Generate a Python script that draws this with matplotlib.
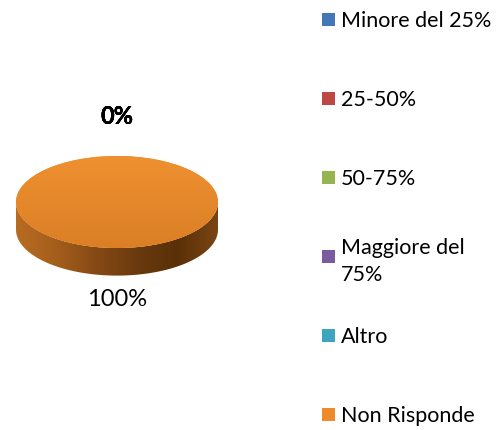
import numpy as np
import matplotlib.pyplot as plt
from matplotlib.patches import Polygon, Rectangle
from matplotlib.colors import LinearSegmentedColormap

categories = ['Minore del 25%', '25-50%', '50-75%', 'Maggiore del\n75%', 'Altro', 'Non Risponde']
values = [0, 0, 0, 0, 0, 100]
colors = ['#4477B5', '#BC4743', '#94B552', '#7A5C9E', '#3FA4BE', '#EE8A2A']

plt.rcParams['font.family'] = ['Lato', 'DejaVu Sans']

W, H = 501, 430
fig = plt.figure(figsize=(W / 100, H / 100), dpi=100)

# pie geometry in pixels (center, semi axes), depth in data units
cx, cy, a, b = 117, 202, 101, 46
depth = 0.6

ax = fig.add_axes([0, 0, 234 / W, 1])
wedges, _ = ax.pie(values, colors=colors, startangle=90, counterclock=False,
                   radius=1, wedgeprops=dict(linewidth=0), frame=False)
ax.set_aspect('auto')
ax.axis('off')

# side of the 3d disc
t = np.linspace(np.pi, 2 * np.pi, 200)
side = np.concatenate([np.column_stack([np.cos(t), np.sin(t)]),
                       np.column_stack([np.cos(t[::-1]), np.sin(t[::-1]) - depth])])
side_patch = Polygon(side, closed=True, facecolor='none', edgecolor='none')
ax.add_patch(side_patch)
side_cmap = LinearSegmentedColormap.from_list(
    'side', ['#B86C22', '#A45E1C', '#854914', '#6A3A0E', '#5A3008', '#7A4514'])
grad = np.linspace(0, 1, 256).reshape(1, -1)
im = ax.imshow(grad, cmap=side_cmap, extent=(-1, 1, -1 - depth, 0),
               aspect='auto', zorder=0.5)
im.set_clip_path(side_patch)

# top face gradient
top_cmap = LinearSegmentedColormap.from_list('top', ['#DB7F26', '#EF9130'])
vgrad = np.linspace(0, 1, 256).reshape(-1, 1)
for w, v in zip(wedges, values):
    if v > 0:
        w.set_zorder(1)
        im2 = ax.imshow(vgrad, cmap=top_cmap, extent=(-1, 1, -1, 1),
                        aspect='auto', origin='lower', zorder=1.1)
        im2.set_clip_path(w)
ax.set_xlim(-117 / a, 117 / a)
ax.set_ylim(-(H - cy) / b, cy / b)

# data labels
total = sum(values)
for v in values:
    pct = '%d%%' % round(100 * v / total)
    if v == 0:
        ax.text(0, 1.85, pct, ha='center', va='center', fontsize=17,
                fontweight='bold', color='black')
    else:
        ax.text(0, -2.13, pct, ha='center', va='center', fontsize=17,
                color='black')

# legend
step = 79
for i, (lab, col) in enumerate(zip(categories, colors)):
    yc = 19 + i * step
    fig.patches.append(Rectangle((322 / W, 1 - (yc + 6.5) / H), 13 / W, 13 / H,
                                 transform=fig.transFigure, facecolor=col,
                                 edgecolor='none'))
    fig.text(341 / W, 1 - yc / H, lab, ha='left', va='center_baseline',
             fontsize=15.5, color='black', linespacing=1.45)

fig.savefig('out.png', dpi=100)
